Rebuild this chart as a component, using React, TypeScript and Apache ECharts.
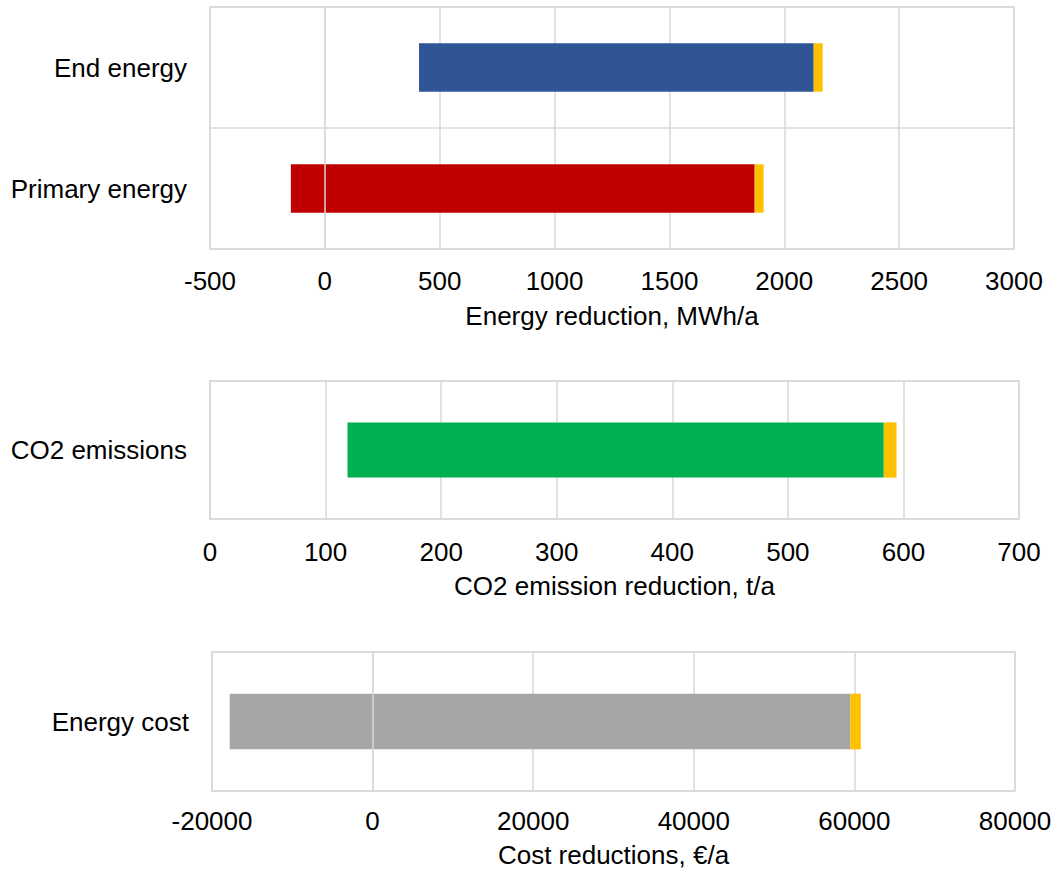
import React, { useEffect, useRef } from "react";
import * as echarts from "echarts";

// ---- Data ----
const energyCategories = ["Primary energy", "End energy"];
const energyStart = [-148, 410];
const energyMainEnd = [1871, 2128];
const energyTotalEnd = [1910, 2167];
const energyColors = ["#C00000", "#2F5597"];

const co2Categories = ["CO2 emissions"];
const co2Start = [119];
const co2MainEnd = [583];
const co2TotalEnd = [594];
const co2Colors = ["#00B050"];

const costCategories = ["Energy cost"];
const costStart = [-17800];
const costMainEnd = [59500];
const costTotalEnd = [60800];
const costColors = ["#A6A6A6"];

const extraColor = "#FFC000";

const axisTitles = [
  "Energy reduction, MWh/a",
  "CO2 emission reduction, t/a",
  "Cost reductions, €/a",
];

const FONT = "Liberation Sans, Arial, sans-serif";
const FS = 26;
const GRID_COLOR = "#D9D9D9";

function makeRenderer(colors: string[] | null) {
  return (params: any, api: any) => {
    const cat = api.value(0);
    const s = api.value(1);
    const e = api.value(2);
    const p0 = api.coord([s, cat]);
    const p1 = api.coord([e, cat]);
    const h = api.size([0, 1])[1] * 0.4;
    const fill = colors ? colors[params.dataIndex] : extraColor;
    return {
      type: "rect",
      shape: { x: p0[0], y: p0[1] - h / 2, width: p1[0] - p0[0], height: h },
      style: { fill },
    };
  };
}

export default function App() {
  const ref = useRef<HTMLDivElement>(null);

  useEffect(() => {
    if (!ref.current) return;
    const chart = echarts.init(ref.current, null, { renderer: "svg" });

    const grids = [
      { left: 210, top: 7, width: 804, height: 242 },
      { left: 210, top: 381, width: 809, height: 138 },
      { left: 212, top: 652, width: 803, height: 139 },
    ];
    const xRanges = [
      { min: -500, max: 3000, interval: 500 },
      { min: 0, max: 700, interval: 100 },
      { min: -20000, max: 80000, interval: 20000 },
    ];
    const cats = [energyCategories, co2Categories, costCategories];
    const labelMargins = [19, 20, 17];
    const nameGaps = [54, 54, 51];

    const series: any[] = [];
    const sets = [
      [energyStart, energyMainEnd, energyTotalEnd, energyColors],
      [co2Start, co2MainEnd, co2TotalEnd, co2Colors],
      [costStart, costMainEnd, costTotalEnd, costColors],
    ] as any[];
    sets.forEach(([st, me, te, cols], gi) => {
      series.push({
        type: "custom",
        xAxisIndex: gi,
        yAxisIndex: gi,
        renderItem: makeRenderer(cols),
        encode: { x: [1, 2], y: 0 },
        data: st.map((v: number, i: number) => [i, v, me[i]]),
        z: 2,
      });
      series.push({
        type: "custom",
        xAxisIndex: gi,
        yAxisIndex: gi,
        renderItem: makeRenderer(null),
        encode: { x: [1, 2], y: 0 },
        data: me.map((v: number, i: number) => [i, v, te[i]]),
        z: 2,
      });
    });

    chart.setOption({
      animation: false,
      backgroundColor: "#ffffff",
      grid: grids.map((g) => ({
        ...g,
        show: true,
        borderColor: GRID_COLOR,
        borderWidth: 1.5,
        backgroundColor: "transparent",
        containLabel: false,
      })),
      xAxis: xRanges.map((r, i) => ({
        type: "value",
        gridIndex: i,
        min: r.min,
        max: r.max,
        interval: r.interval,
        name: axisTitles[i],
        nameLocation: "middle",
        nameGap: nameGaps[i],
        nameTextStyle: { color: "#000", fontSize: FS, fontFamily: FONT },
        axisLine: { show: false },
        axisTick: { show: false },
        axisLabel: {
          color: "#000",
          fontSize: FS,
          fontFamily: FONT,
          margin: labelMargins[i],
          formatter: (v: number) => String(v),
        },
        splitLine: { show: true, lineStyle: { color: GRID_COLOR, width: 1.5 } },
      })),
      yAxis: cats.map((c, i) => ({
        type: "category",
        gridIndex: i,
        data: c,
        z: 5,
        axisLine: {
          show: true,
          onZero: true,
          lineStyle: { color: GRID_COLOR, width: 1.5 },
        },
        axisTick: { show: false },
        axisLabel: {
          color: "#000",
          fontSize: FS,
          fontFamily: FONT,
          margin: 23,
        },
        splitLine: {
          show: true,
          interval: 0,
          lineStyle: { color: GRID_COLOR, width: 1.5 },
        },
      })),
      series,
    });

    return () => chart.dispose();
  }, []);

  return (
    <div
      ref={ref}
      style={{ position: "absolute", left: 0, top: 0, width: 1057, height: 874 }}
    />
  );
}
